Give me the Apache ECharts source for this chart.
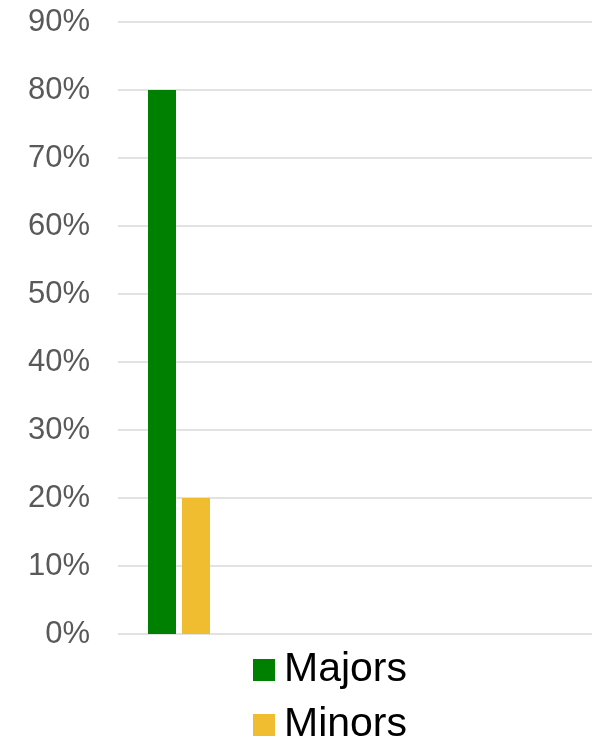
<!DOCTYPE html>
<html>
<head>
<meta charset="utf-8">
<script src="https://cdn.jsdelivr.net/npm/echarts@6/dist/echarts.min.js"></script>
<style>html,body{margin:0;padding:0;background:#fff}#c{width:593px;height:741px}</style>
</head>
<body>
<div id="c"></div>
<script>
const categories = ['', ' ', '  ', '   '];
const seriesNames = ['Majors', 'Minors'];
const majors = [80, null, null, null];
const minors = [20, null, null, null];
const yTicks = { min: 0, max: 90, interval: 10 };

const legendText = {
  fontSize: 41,
  color: '#000000',
  lineHeight: 44,
  padding: [0, 0, 0, 4],
  fontFamily: 'Liberation Sans, Arial, sans-serif'
};

const chart = echarts.init(document.getElementById('c'), null, { renderer: 'canvas' });
chart.setOption({
  animation: false,
  backgroundColor: '#ffffff',
  textStyle: { fontFamily: 'Liberation Sans, Arial, sans-serif' },
  grid: [
    { left: 118, right: 1, top: 22, bottom: 107, containLabel: false },
    { left: 120, right: 1, top: 22, bottom: 107, containLabel: false }
  ],
  xAxis: [
    { type: 'category', gridIndex: 0, data: categories, axisLine: { show: false }, axisTick: { show: false }, axisLabel: { show: false } },
    { type: 'category', gridIndex: 1, data: categories, axisLine: { show: false }, axisTick: { show: false }, axisLabel: { show: false } }
  ],
  yAxis: [
    {
      type: 'value', gridIndex: 0,
      min: yTicks.min, max: yTicks.max, interval: yTicks.interval,
      axisLine: { show: false },
      axisTick: { show: false },
      splitLine: { show: true, lineStyle: { color: '#d9d9d9', width: 1.5 } },
      axisLabel: {
        formatter: '{value}%',
        color: '#595959',
        fontSize: 31,
        margin: 28,
        fontFamily: 'Liberation Sans, Arial, sans-serif'
      }
    },
    {
      type: 'value', gridIndex: 1,
      min: yTicks.min, max: yTicks.max, interval: yTicks.interval,
      show: false
    }
  ],
  legend: [
    {
      orient: 'vertical', left: 253, top: 648, padding: 0,
      icon: 'rect', itemWidth: 22, itemHeight: 22,
      textStyle: legendText, data: [seriesNames[0]]
    },
    {
      orient: 'vertical', left: 253, top: 703, padding: 0,
      icon: 'rect', itemWidth: 22, itemHeight: 22,
      textStyle: legendText, data: [seriesNames[1]]
    }
  ],
  series: [
    { name: seriesNames[0], type: 'bar', xAxisIndex: 1, yAxisIndex: 1, data: majors, barWidth: 28, barGap: '21.4%', itemStyle: { color: '#008000' } },
    { name: seriesNames[1], type: 'bar', xAxisIndex: 1, yAxisIndex: 1, data: minors, barWidth: 28, itemStyle: { color: '#f0bd30' } }
  ]
});
</script>
</body>
</html>
